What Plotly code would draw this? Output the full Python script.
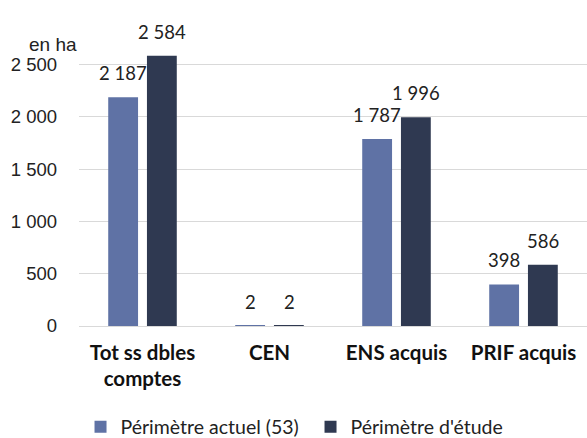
import plotly.graph_objects as go

categories = ["Tot ss dbles<br>comptes", "CEN", "ENS acquis", "PRIF acquis"]
actuel = [2187, 2, 1787, 398]
etude = [2584, 2, 1996, 586]
series_names = ["Périmètre actuel (53)", "Périmètre d'étude"]
y_ticks = [0, 500, 1000, 1500, 2000, 2500]

light = "#5f72a5"
dark = "#2f3951"
label_font = dict(family="Lato, Open Sans, sans-serif", size=18.5, color="#222222")

fig = go.Figure()
fig.add_trace(go.Bar(name=series_names[0], x=categories, y=actuel,
                     marker=dict(color=light, line=dict(width=0))))
fig.add_trace(go.Bar(name=series_names[1], x=categories, y=etude,
                     marker=dict(color=dark, line=dict(width=0))))


def fmt(v):
    return f"{v:,}".replace(",", " ")


# value labels above each bar
for vals, dx in ((actuel, -19.5), (etude, 19.5)):
    for cat, v in zip(categories, vals):
        fig.add_annotation(x=cat, y=v, text=fmt(v), showarrow=False,
                           xshift=dx, yshift=11, yanchor="bottom",
                           font=label_font)

fig.add_annotation(text="en ha", xref="paper", yref="paper", x=0.0, y=1.026,
                   xanchor="right", yanchor="middle", showarrow=False,
                   font=dict(family="Liberation Sans, Arial", size=19, color="#222222"))

fig.update_layout(
    width=587, height=438,
    margin=dict(l=79, r=0, t=52, b=112),
    paper_bgcolor="white", plot_bgcolor="white",
    separators=", ",
    barmode="group", bargap=0.39, bargroupgap=0.23,
    showlegend=True,
    legend=dict(orientation="h", x=0.003, xanchor="left",
                yref="container", y=0.025, yanchor="middle",
                font=dict(family="Lato, Open Sans, sans-serif", size=19.5, color="#222222"),
                itemwidth=30, entrywidth=185, entrywidthmode="pixels",
                traceorder="normal"),
    xaxis=dict(showline=False, ticks="", automargin=False, ticklabelstandoff=12,
               tickfont=dict(family="Lato, Open Sans, sans-serif", size=20.5, color="#111111",
                             weight="bold")),
    yaxis=dict(range=[0, 2620], tickvals=y_ticks, tickformat=",d", automargin=False,
               showgrid=True, gridcolor="#d9d9d9", gridwidth=1,
               zeroline=True, zerolinecolor="#d9d9d9", zerolinewidth=1,
               ticklabelstandoff=21,
               tickfont=dict(family="Liberation Sans, Arial", size=18.5, color="#222222")),
)

fig.write_html("out.html")
